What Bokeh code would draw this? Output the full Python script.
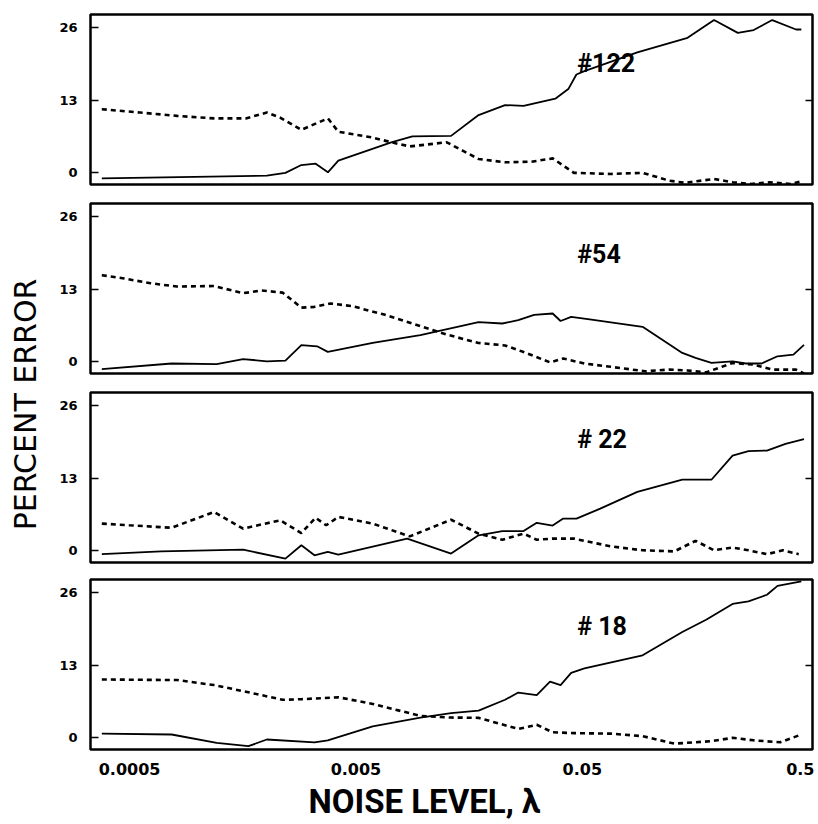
from math import pi
from bokeh.plotting import figure
from bokeh.layouts import row, column
from bokeh.models import Range1d, FixedTicker, Title, LinearAxis
from bokeh.core.properties import value
from bokeh.embed import file_html
from bokeh.resources import INLINE

# ---------------- data (noise level lambda, percent error) ----------------
labels = ["#122", "#54", "# 22", "# 18"]
label_x = 0.0475
label_y = [19.5, 19.2, 19.9, 20.0]

x_ticks = [0.0005, 0.005, 0.05, 0.5]
x_tick_labels = ["0.0005", "0.005", "0.05", "0.5"]
y_ticks = [0, 13, 26]
right_ticks = [13]

# panel #122
s122_x = [0.000377, 0.00202, 0.00244, 0.00287, 0.00332, 0.00376, 0.00418, 0.00716, 0.00888,
          0.01316, 0.01741, 0.02279, 0.02751, 0.0380, 0.0435, 0.0471, 0.0511, 0.0875, 0.1459,
          0.191, 0.2433, 0.2859, 0.3453, 0.4398, 0.4642]
s122_y = [-1.1, -0.6, -0.1, 1.3, 1.55, 0.0, 2.1, 5.4, 6.45, 6.55, 10.3, 12.1, 11.95, 13.25,
          15.05, 17.6, 18.2, 21.6, 24.2, 27.4, 25.1, 25.6, 27.4, 25.7, 25.7]
d122_x = [0.000377, 0.000556, 0.00081, 0.00118, 0.00163, 0.00202, 0.00231, 0.00287, 0.00376,
          0.00418, 0.00593, 0.00716, 0.00865, 0.0126, 0.0148, 0.0174, 0.0228, 0.0298, 0.0370,
          0.0459, 0.0669, 0.0924, 0.121, 0.142, 0.191, 0.231, 0.278, 0.336, 0.417, 0.464]
d122_y = [11.35, 10.75, 10.15, 9.7, 9.7, 10.75, 9.85, 7.65, 9.7, 7.3, 6.25, 5.4, 4.65, 5.4,
          3.9, 2.4, 1.8, 1.9, 2.5, -0.1, -0.3, -0.1, -1.5, -1.9, -1.2, -1.8, -2.1, -1.8, -2.1, -1.65]

# panel #54
s54_x = [0.000377, 0.000767, 0.001213, 0.001587, 0.00202, 0.00244, 0.00287, 0.00337, 0.003755,
         0.00593, 0.00963, 0.01195, 0.01741, 0.02218, 0.02607, 0.03063, 0.03698, 0.04009,
         0.04465, 0.05391, 0.09235, 0.1383, 0.1582, 0.186, 0.2306, 0.2638, 0.31, 0.3643,
         0.4282, 0.4769]
s54_y = [-1.4, -0.4, -0.5, 0.4, 0.0, 0.1, 2.9, 2.7, 1.7, 3.3, 4.7, 5.55, 7.05, 6.8, 7.4, 8.35,
         8.6, 7.25, 8.0, 7.55, 6.2, 1.5, 0.6, -0.3, 0.0, -0.4, -0.4, 0.9, 1.2, 2.95]
d54_x = [0.000377, 0.000473, 0.000619, 0.00081, 0.00118, 0.001587, 0.001916, 0.002376, 0.00287,
         0.00328, 0.003857, 0.004783, 0.006607, 0.00963, 0.0126, 0.01741, 0.02279, 0.02826,
         0.03601, 0.04119, 0.05108, 0.06686, 0.09486, 0.1209, 0.1459, 0.1762, 0.2306, 0.2859,
         0.3453, 0.4398, 0.4769]
d54_y = [15.5, 14.9, 14.05, 13.45, 13.55, 12.25, 12.75, 12.35, 9.65, 9.8, 10.4, 9.95, 8.45, 6.35,
         4.8, 3.3, 2.85, 1.5, -0.2, 0.5, -0.4, -1.0, -1.8, -1.5, -1.65, -2.0, -0.3, -0.6, -1.5,
         -1.5, -2.2]

# panel #22
s22_x = [0.000377, 0.000689, 0.001587, 0.00244, 0.00287, 0.00328, 0.003755, 0.00418, 0.00842,
         0.01316, 0.01741, 0.02218, 0.02751, 0.03146, 0.03698, 0.04119, 0.04711, 0.06003,
         0.08752, 0.1383, 0.186, 0.2306, 0.271, 0.3272, 0.395, 0.4769]
s22_y = [-0.7, -0.2, 0.1, -1.5, 0.9, -0.9, -0.3, -0.8, 2.1, -0.6, 2.7, 3.45, 3.45, 4.95, 4.45,
         5.7, 5.7, 7.5, 10.5, 12.7, 12.7, 17.05, 17.85, 17.95, 19.15, 20.0]
d22_x = [0.000377, 0.000499, 0.000767, 0.00118, 0.001587, 0.002313, 0.00287, 0.003318, 0.003695,
         0.00418, 0.00593, 0.00865, 0.01316, 0.01741, 0.02218, 0.02751, 0.03146, 0.03698,
         0.04586, 0.06686, 0.09235, 0.1276, 0.1582, 0.191, 0.2306, 0.271, 0.3272, 0.3845, 0.4519]
d22_y = [4.8, 4.5, 4.05, 6.9, 3.9, 5.4, 3.1, 5.85, 4.5, 6.0, 4.8, 2.5, 5.5, 3.0, 1.9, 3.0, 1.9,
         2.1, 2.1, 0.7, 0.0, -0.2, 1.7, 0.0, 0.5, 0.0, -0.7, 0.0, -0.7]

# panel #18
s18_x = [0.000377, 0.000767, 0.001213, 0.001675, 0.00202, 0.00328, 0.003755, 0.00593, 0.00963,
         0.01316, 0.01741, 0.02279, 0.02607, 0.03146, 0.03601, 0.04009, 0.04465, 0.05108,
         0.09235, 0.1383, 0.1762, 0.2306, 0.271, 0.3272, 0.3643, 0.4642]
s18_y = [0.65, 0.5, -1.0, -1.6, -0.4, -0.9, -0.55, 1.95, 3.55, 4.35, 4.8, 6.75, 8.05, 7.6, 10.0,
         9.4, 11.6, 12.4, 14.75, 18.95, 21.15, 24.0, 24.45, 25.65, 27.25, 28.05]
d18_x = [0.000377, 0.00081, 0.00118, 0.001631, 0.002376, 0.00287, 0.00418, 0.00593, 0.00963,
         0.01316, 0.01741, 0.02607, 0.03146, 0.03698, 0.04586, 0.06686, 0.09235, 0.1276, 0.186,
         0.2306, 0.2859, 0.3743, 0.4642]
d18_y = [10.4, 10.3, 9.4, 8.2, 6.75, 6.85, 7.2, 6.0, 3.85, 3.55, 3.5, 1.5, 2.25, 0.9, 0.75, 0.65,
         0.2, -1.15, -0.7, -0.1, -0.55, -0.9, 0.5]

panels = [
    (s122_x, s122_y, d122_x, d122_y),
    (s54_x, s54_y, d54_x, d54_y),
    (s22_x, s22_y, d22_x, d22_y),
    (s18_x, s18_y, d18_x, d18_y),
]

X_RANGE = (0.000336, 0.52)
Y_RANGE = (-2.2, 28.4)
FRAME_W = 722
FRAME_H = 170
TOPS = [14, 10, 10, 8]

figs = []
for i, (sx, sy, dx, dy) in enumerate(panels):
    last = i == len(panels) - 1
    p = figure(
        x_axis_type="log",
        x_range=Range1d(*X_RANGE),
        y_range=Range1d(*Y_RANGE),
        frame_width=FRAME_W,
        frame_height=FRAME_H,
        output_backend="svg",
        toolbar_location=None,
        x_axis_location="below" if last else None,
        min_border_left=32,
        min_border_right=2,
        min_border_top=TOPS[i],
        min_border_bottom=10 if last else 9,
        background_fill_color="white",
        border_fill_color="white",
    )
    p.grid.visible = False
    p.outline_line_color = "black"
    p.outline_line_width = 2.5

    ya = p.yaxis[0]
    ya.ticker = FixedTicker(ticks=y_ticks)
    ya.minor_tick_line_color = None
    ya.major_tick_in = 8
    ya.major_tick_out = 0
    ya.major_tick_line_width = 1.5
    ya.axis_line_color = None
    ya.major_label_text_font = "DejaVu Sans"
    ya.major_label_text_font_style = "bold"
    ya.major_label_text_font_size = "13px"
    ya.major_label_text_color = "black"
    ya.major_label_standoff = 13

    ra = LinearAxis(ticker=FixedTicker(ticks=right_ticks),
                    major_label_overrides={13: ""},
                    major_tick_in=7, major_tick_out=0, major_tick_line_width=1.5,
                    minor_tick_line_color=None, axis_line_color=None,
                    major_label_standoff=0, major_label_text_font_size="1px")
    p.add_layout(ra, "right")

    if last:
        xa = p.xaxis[0]
        xa.ticker = FixedTicker(ticks=x_ticks)
        xa.major_label_overrides = {t: s for t, s in zip(x_ticks, x_tick_labels)}
        xa.minor_tick_line_color = None
        xa.major_tick_line_color = None
        xa.major_tick_out = 0
        xa.major_tick_in = 0
        xa.axis_line_color = None
        xa.major_label_text_font = "DejaVu Sans"
        xa.major_label_text_font_style = "bold"
        xa.major_label_text_font_size = "16px"
        xa.major_label_text_color = "black"
        xa.major_label_standoff = 13
        t = Title(text="NOISE LEVEL, λ", align="left", offset=218,
                  text_font="Roboto", text_font_size="33px", text_font_style="bold",
                  text_color="black", standoff=5)
        p.add_layout(t, "below")

    p.line(sx, sy, line_color="black", line_width=1.8)
    p.line(dx, dy, line_color="black", line_width=2.6, line_dash="5 4")
    p.text(x=[label_x], y=[label_y[i]], text=[labels[i]],
           text_font=value("Roboto"), text_font_style="bold", text_font_size="25px",
           text_align="left", text_baseline="middle", text_color="black")
    figs.append(p)

H = 815
lf = figure(width=56, height=H, x_range=Range1d(0, 56), y_range=Range1d(0, H),
            min_border=0, x_axis_location=None, y_axis_location=None,
            toolbar_location=None, output_backend="svg")
lf.grid.visible = False
lf.outline_line_color = None
lf.text(x=[25], y=[H - 404], text=["PERCENT ERROR"], angle=pi / 2,
        text_align="center", text_baseline="middle",
        text_font=value("DejaVu Sans"), text_font_size="30px", text_color="black")

layout = row(lf, column(*figs, spacing=0), spacing=0)

open("out.html", "w").write(file_html(layout, INLINE))
